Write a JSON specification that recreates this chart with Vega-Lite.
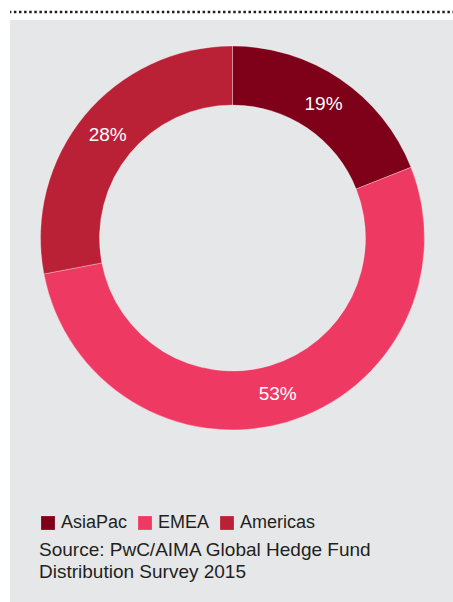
{
  "$schema": "https://vega.github.io/schema/vega-lite/v6.json",
  "padding": {"left": 8, "top": 10, "right": 0, "bottom": 0},
  "background": "#ffffff",
  "config": {
    "view": {"stroke": null},
    "font": "Liberation Sans"
  },
  "datasets": {
    "shares": [
      {"region": "AsiaPac", "share": 0.19, "rank": 1},
      {"region": "EMEA", "share": 0.53, "rank": 2},
      {"region": "Americas", "share": 0.28, "rank": 3}
    ]
  },
  "spacing": 6,
  "vconcat": [
    {
      "width": 445,
      "height": 1,
      "data": {"values": [{"line": "top"}]},
      "mark": {"type": "rule", "color": "#231f20", "strokeWidth": 2.5, "strokeDash": [2.5, 2.6], "strokeCap": "butt"},
      "encoding": {
        "y": {"datum": 1, "type": "quantitative", "scale": {"domain": [0, 1]}, "axis": null}
      }
    },
    {
      "spacing": 0,
      "resolve": {"scale": {"color": "shared"}, "legend": {"color": "independent"}},
      "vconcat": [
        {
          "width": 445,
          "height": 436,
          "view": {"fill": "#e6e7e8", "stroke": null},
          "data": {"name": "shares"},
          "encoding": {
            "theta": {"field": "share", "type": "quantitative", "stack": true},
            "order": {"field": "rank", "type": "quantitative", "sort": "ascending"},
            "color": {
              "field": "region",
              "type": "nominal",
              "scale": {"domain": ["AsiaPac", "EMEA", "Americas"], "range": ["#7f0019", "#ee3a63", "#bb2136"]},
              "legend": null
            }
          },
          "layer": [
            {
              "mark": {"type": "arc", "outerRadius": 192, "innerRadius": 133, "stroke": "#ffffff", "strokeWidth": 0.6, "strokeOpacity": 0.5}
            },
            {
              "mark": {"type": "text", "radius": 162, "fontSize": 19, "color": "#ffffff"},
              "encoding": {
                "text": {"field": "share", "type": "quantitative", "format": ".0%"},
                "color": {"value": "#ffffff"}
              }
            }
          ]
        },
        {
          "width": 445,
          "height": 149,
          "view": {"fill": "#e6e7e8", "stroke": null},
          "data": {"name": "shares"},
          "mark": {"type": "arc", "outerRadius": 0, "innerRadius": 0},
          "encoding": {
            "theta": {"field": "share", "type": "quantitative", "stack": true},
            "order": {"field": "rank", "type": "quantitative", "sort": "ascending"},
            "color": {
              "field": "region",
              "type": "nominal",
              "scale": {"domain": ["AsiaPac", "EMEA", "Americas"], "range": ["#7f0019", "#ee3a63", "#bb2136"]},
              "legend": {
                "orient": "none",
                "legendX": 29,
                "legendY": 58,
                "direction": "horizontal",
                "columns": 3,
                "padding": 0,
                "symbolType": "square",
                "symbolSize": 190,
                "symbolStrokeWidth": 0,
                "symbolOpacity": 1,
                "labelOffset": 4,
                "columnPadding": 8,
                "labelFontSize": 18,
                "labelColor": "#231f20",
                "labelFont": "Liberation Sans",
                "title": ["Source: PwC/AIMA Global Hedge Fund", "Distribution Survey 2015"],
                "titleOrient": "bottom",
                "titleAnchor": "start",
                "titleAlign": "left",
                "titleFontSize": 19,
                "titleFontWeight": "normal",
                "titleColor": "#231f20",
                "titleFont": "Liberation Sans",
                "titleLineHeight": 22,
                "titlePadding": 9,
                "titleLimit": 440
              }
            }
          }
        }
      ]
    }
  ]
}
